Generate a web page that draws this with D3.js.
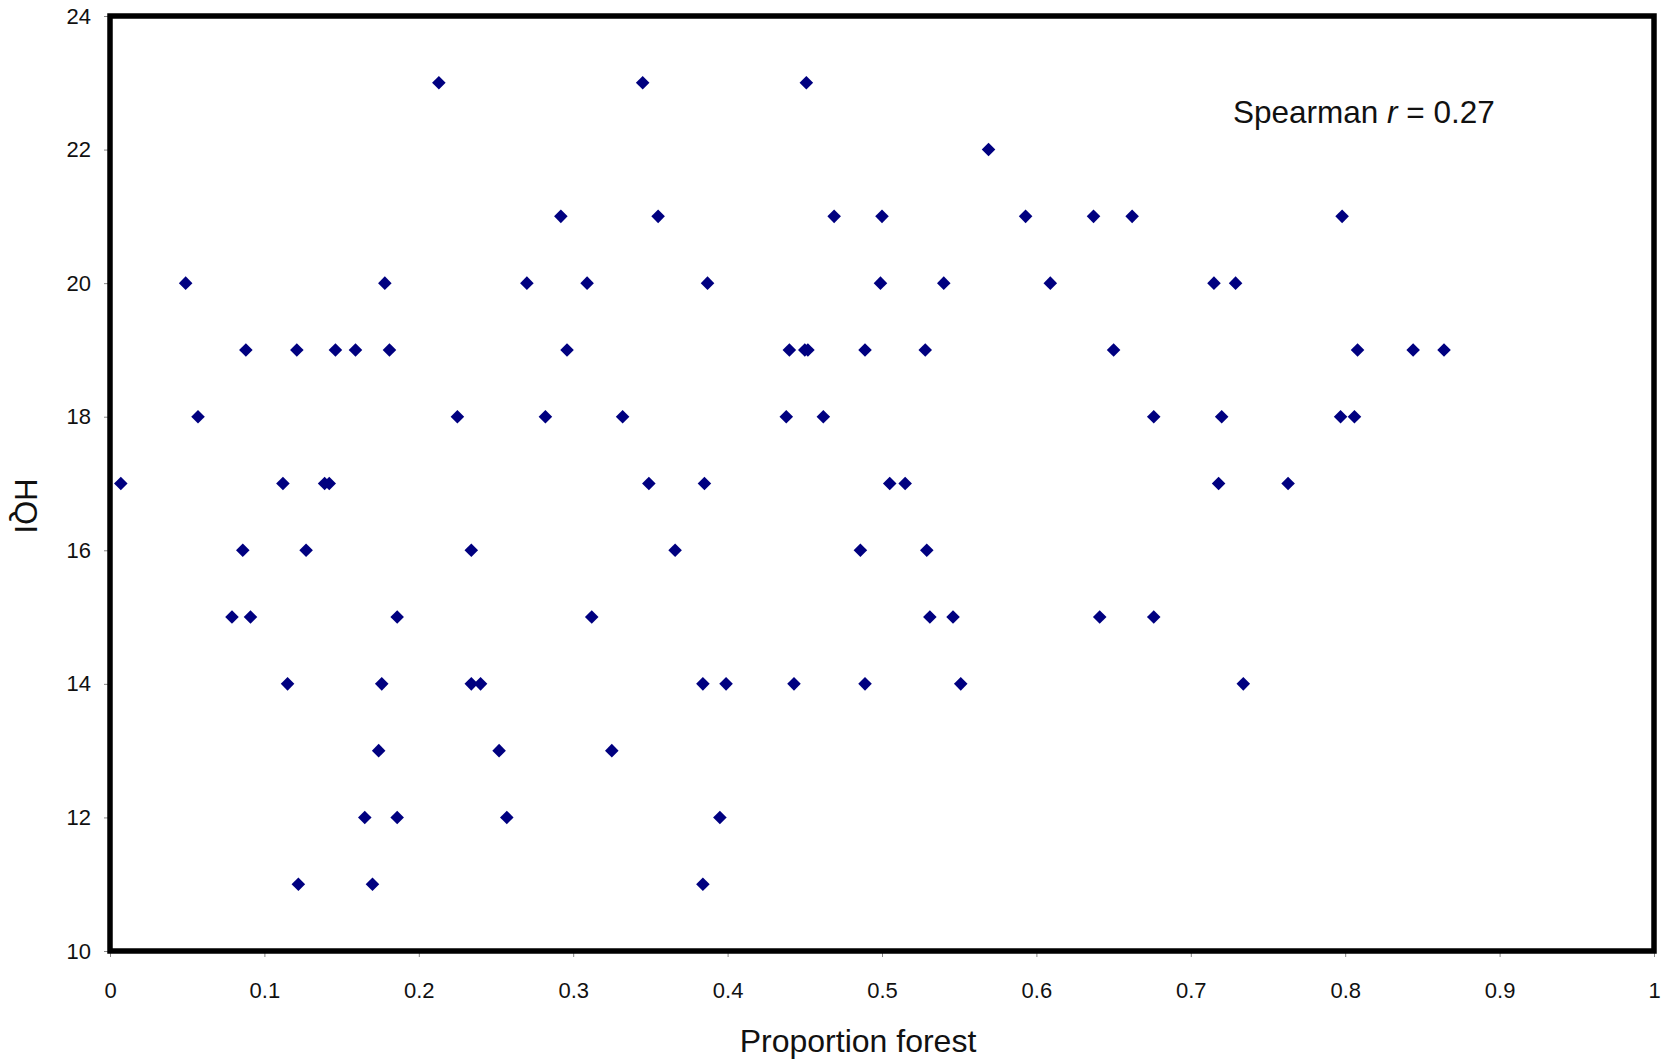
<!DOCTYPE html>
<html>
<head>
<meta charset="utf-8">
<script src="https://d3js.org/d3.v7.min.js"></script>
<style>
  body { margin: 0; background: #fff; }
  text { font-family: "Liberation Sans", Arial, sans-serif; fill: #111; }
</style>
</head>
<body>
<div id="scatter"></div>
<script>

// data: proportion forest and HQI score per site
var forest = [
  0.213, 0.345, 0.451,
  0.569,
  0.292, 0.355, 0.469, 0.500, 0.593, 0.637, 0.662, 0.798,
  0.049, 0.178, 0.270, 0.309, 0.387, 0.499, 0.540, 0.609, 0.715, 0.729,
  0.088, 0.121, 0.146, 0.159, 0.181, 0.296, 0.440, 0.450, 0.452, 0.489, 0.528, 0.650, 0.808, 0.844, 0.864,
  0.057, 0.225, 0.282, 0.332, 0.438, 0.462, 0.676, 0.720, 0.797, 0.806,
  0.007, 0.112, 0.139, 0.142, 0.349, 0.385, 0.505, 0.515, 0.718, 0.763,
  0.086, 0.127, 0.234, 0.366, 0.486, 0.529,
  0.079, 0.091, 0.186, 0.312, 0.531, 0.546, 0.641, 0.676,
  0.115, 0.176, 0.234, 0.240, 0.384, 0.399, 0.443, 0.489, 0.551, 0.734,
  0.174, 0.252, 0.325,
  0.165, 0.186, 0.257, 0.395,
  0.122, 0.170, 0.384
];
var hqi = [
  23, 23, 23,
  22,
  21, 21, 21, 21, 21, 21, 21, 21,
  20, 20, 20, 20, 20, 20, 20, 20, 20, 20,
  19, 19, 19, 19, 19, 19, 19, 19, 19, 19, 19, 19, 19, 19, 19,
  18, 18, 18, 18, 18, 18, 18, 18, 18, 18,
  17, 17, 17, 17, 17, 17, 17, 17, 17, 17,
  16, 16, 16, 16, 16, 16,
  15, 15, 15, 15, 15, 15, 15, 15,
  14, 14, 14, 14, 14, 14, 14, 14, 14, 14,
  13, 13, 13,
  12, 12, 12, 12,
  11, 11, 11
];

// tick values on both axes
var xTicks = [0, 0.1, 0.2, 0.3, 0.4, 0.5, 0.6, 0.7, 0.8, 0.9, 1];
var yTicks = [10, 12, 14, 16, 18, 20, 22, 24];

var width = 1669,
    height = 1064,
    margin = {top: 16, right: 15, bottom: 113, left: 110};

var svg = d3.select("#scatter")
    .append("svg")
    .attr("width", width)
    .attr("height", height);

// scales
var x_scale = d3.scaleLinear()
    .domain([0, 1])
    .range([margin.left, width - margin.right]);

var y_scale = d3.scaleLinear()
    .domain([10, 24])
    .range([height - margin.bottom, margin.top]);

// x axis with small grey ticks
var x_axis = d3.axisBottom(x_scale)
    .tickValues(xTicks)
    .tickSize(6)
    .tickPadding(25)
    .tickFormat(d3.format("~g"));

svg.append("g")
   .attr("transform", "translate(0," + (height - margin.bottom) + ")")
   .call(x_axis)
   .call(function(g) {
     g.select(".domain").remove();
     g.selectAll(".tick line").attr("stroke", "#888");
     g.selectAll(".tick text").attr("font-size", 22).attr("fill", "#111");
   });

// y axis
var y_axis = d3.axisLeft(y_scale)
    .tickValues(yTicks)
    .tickSize(6)
    .tickPadding(13);

svg.append("g")
   .attr("transform", "translate(" + margin.left + ",0)")
   .call(y_axis)
   .call(function(g) {
     g.select(".domain").remove();
     g.selectAll(".tick line").attr("stroke", "#888");
     g.selectAll(".tick text").attr("font-size", 22).attr("fill", "#111");
   });

// thick black frame round the plot area
svg.append("rect")
   .attr("x", x_scale(0))
   .attr("y", y_scale(24))
   .attr("width", x_scale(1) - x_scale(0))
   .attr("height", y_scale(10) - y_scale(24))
   .attr("fill", "none")
   .attr("stroke", "#000")
   .attr("stroke-width", 5.5);

// diamond markers
var diamond = d3.symbol().type(d3.symbolSquare).size(92);

svg.selectAll(".dot")
   .data(forest)
   .enter()
   .append("path")
   .attr("class", "dot")
   .attr("d", diamond)
   .attr("fill", "#000080")
   .attr("transform", function(d, i) {
     return "translate(" + x_scale(d) + "," + y_scale(hqi[i]) + ") rotate(45)";
   });

// x title
svg.append("text")
   .attr("x", 858)
   .attr("y", 1052)
   .attr("text-anchor", "middle")
   .attr("font-size", 32)
   .text("Proportion forest");

// y title, reads top to bottom
svg.append("text")
   .attr("transform", "translate(15,506) rotate(90)")
   .attr("text-anchor", "middle")
   .attr("font-size", 31)
   .text("HQI");

// correlation note
var note = svg.append("text")
   .attr("x", 1233)
   .attr("y", 123)
   .attr("font-size", 31.5);
note.append("tspan").text("Spearman ");
note.append("tspan").attr("font-style", "italic").text("r");
note.append("tspan").text(" = 0.27");

</script>
</body>
</html>
